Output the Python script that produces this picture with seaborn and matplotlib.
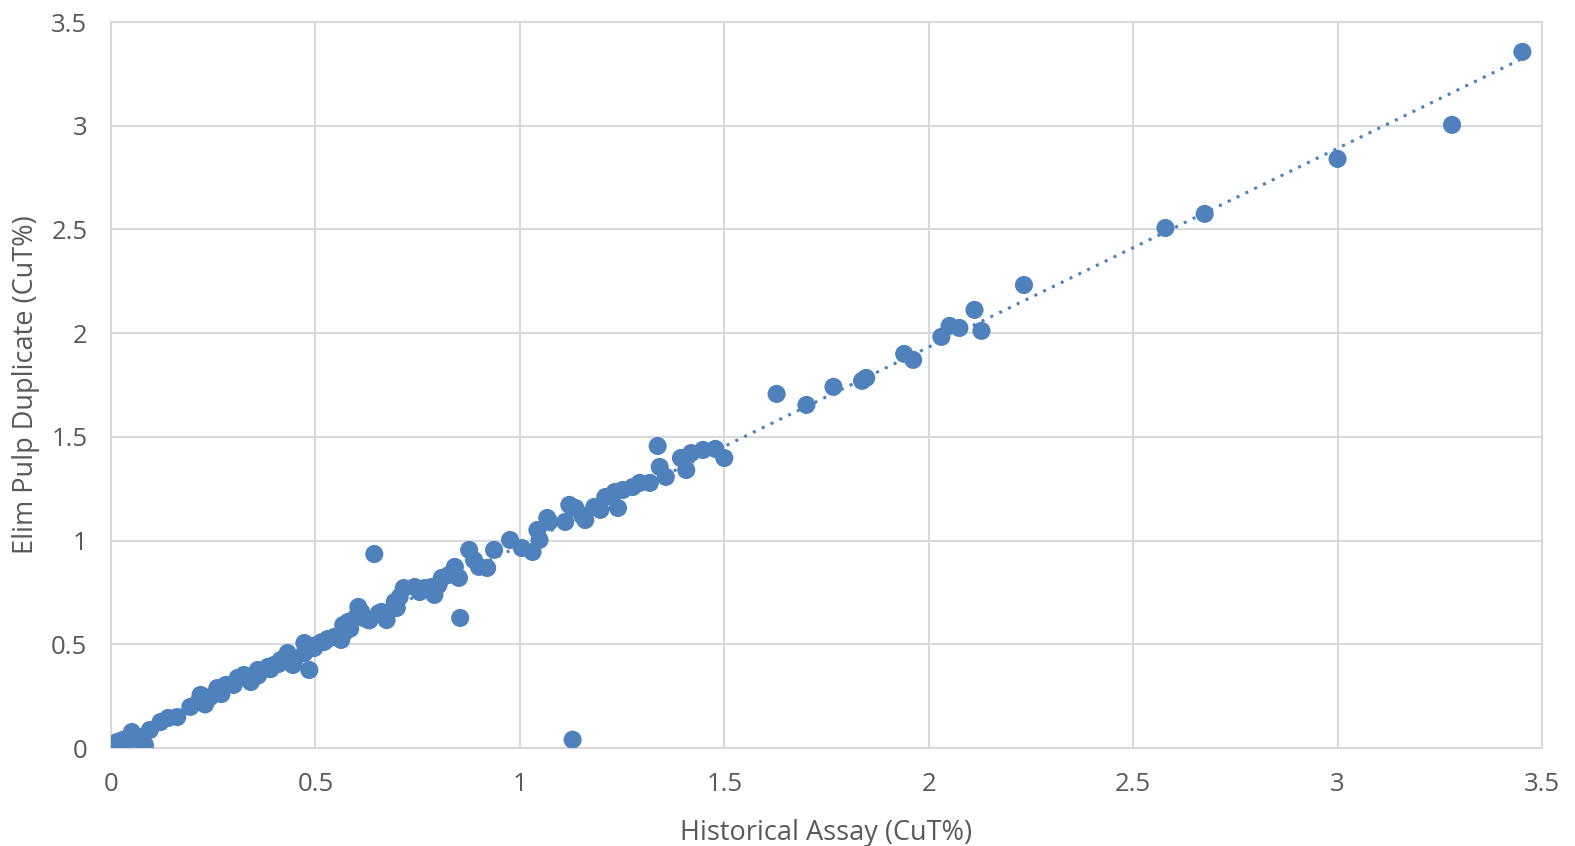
import numpy as np
import pandas as pd
import matplotlib
matplotlib.use("Agg")
import matplotlib.pyplot as plt
import seaborn as sns

historical = [
    3.452, 3.280, 3.000, 2.675, 2.579, 2.233, 2.112, 2.129, 2.075, 2.051, 2.031,
    1.940, 1.962, 1.847, 1.837, 1.767, 1.701, 1.628,
    1.337, 1.342, 1.357, 1.394, 1.407, 1.419, 1.448, 1.478, 1.500, 1.318, 1.293,
    1.276, 1.252, 1.232, 1.209, 1.240, 1.182, 1.197, 1.160, 1.121, 1.136, 1.111,
    1.067, 1.043, 1.153,
    0.644, 0.854, 0.876, 0.888, 0.900, 0.920, 0.937, 0.976, 1.005, 1.031, 1.048,
    1.072, 0.841, 0.851, 0.826, 0.809, 0.801, 0.784, 0.767, 0.791, 0.755, 0.743,
    0.716, 0.706, 0.694, 0.699, 0.662, 0.674, 0.612, 0.600, 0.580, 0.568, 0.605,
    0.015, 0.029, 0.051, 0.083, 0.076, 0.095, 0.121, 0.140, 0.162, 0.194, 0.214,
    0.219, 0.243, 0.260, 0.281, 0.300, 0.310, 0.325, 0.342, 0.359, 0.384, 0.398,
    0.415, 0.432, 0.445, 0.473, 0.485, 0.497, 0.521, 0.546, 0.570, 0.563, 0.473,
    0.005, 0.040, 0.060, 0.230, 0.270, 0.360, 0.450, 1.129,
    0.500, 0.515, 0.530, 0.585, 0.620, 0.632, 0.655, 0.390, 0.410, 0.350,
]
duplicate = [
    3.356, 3.004, 2.840, 2.575, 2.507, 2.232, 2.112, 2.011, 2.025, 2.035, 1.982,
    1.900, 1.871, 1.784, 1.770, 1.741, 1.654, 1.707,
    1.456, 1.355, 1.307, 1.398, 1.340, 1.422, 1.437, 1.442, 1.398, 1.278, 1.278,
    1.258, 1.244, 1.234, 1.210, 1.157, 1.162, 1.148, 1.099, 1.172, 1.157, 1.090,
    1.109, 1.051, 1.119,
    0.935, 0.627, 0.955, 0.906, 0.873, 0.868, 0.955, 1.003, 0.964, 0.945, 1.003,
    1.090, 0.873, 0.820, 0.834, 0.820, 0.786, 0.776, 0.771, 0.738, 0.752, 0.776,
    0.771, 0.728, 0.704, 0.675, 0.656, 0.617, 0.656, 0.632, 0.608, 0.593, 0.680,
    0.029, 0.039, 0.077, 0.014, 0.053, 0.087, 0.125, 0.145, 0.149, 0.198, 0.222,
    0.256, 0.246, 0.289, 0.304, 0.304, 0.338, 0.352, 0.318, 0.376, 0.391, 0.400,
    0.424, 0.458, 0.400, 0.506, 0.376, 0.482, 0.511, 0.535, 0.554, 0.521, 0.458,
    0.010, 0.030, 0.045, 0.210, 0.260, 0.350, 0.430, 0.040,
    0.495, 0.510, 0.525, 0.575, 0.625, 0.615, 0.650, 0.380, 0.405, 0.345,
]
ticks = [0, 0.5, 1, 1.5, 2, 2.5, 3, 3.5]
tick_labels = ["0", "0.5", "1", "1.5", "2", "2.5", "3", "3.5"]

df = pd.DataFrame({"x": historical, "y": duplicate})
blue = "#4F81BD"
grid_c = "#D9D9D9"
text_c = "#595959"

sns.set_theme(style="white")
plt.rcParams["font.family"] = ["Open Sans", "DejaVu Sans"]

fig = plt.figure(figsize=(15.75, 8.46), dpi=100)
ax = fig.add_axes([111 / 1575, 1 - 748 / 846, (1542 - 111) / 1575, (748 - 22) / 846])

slope, intercept = np.polyfit(df["x"], df["y"], 1)
xl = np.array([0.0, max(historical)])
ax.plot(xl, slope * xl + intercept, linestyle=(0, (1, 2.2)), color=blue,
        linewidth=2.2, zorder=2)

sns.scatterplot(data=df, x="x", y="y", ax=ax, color=blue, s=170,
                edgecolor="none", linewidth=0, zorder=3)

ax.set_xlim(0, 3.5)
ax.set_ylim(0, 3.5)
ax.set_xticks(ticks)
ax.set_xticklabels(tick_labels)
ax.set_yticks(ticks)
ax.set_yticklabels(tick_labels)
ax.grid(True, color=grid_c, linewidth=1.5, zorder=0)
ax.set_axisbelow(True)
for sp in ax.spines.values():
    sp.set_color(grid_c)
    sp.set_linewidth(1.5)
ax.tick_params(axis="both", length=0, labelsize=18.5, colors=text_c)
ax.tick_params(axis="x", pad=17)
ax.tick_params(axis="y", pad=17)
ax.set_xlabel("Historical Assay (CuT%)", fontsize=19.5, color=text_c, labelpad=16)
ax.set_ylabel("Elim Pulp Duplicate (CuT%)", fontsize=19.5, color=text_c, labelpad=8)

fig.savefig("out.png", dpi=100, facecolor="white")
